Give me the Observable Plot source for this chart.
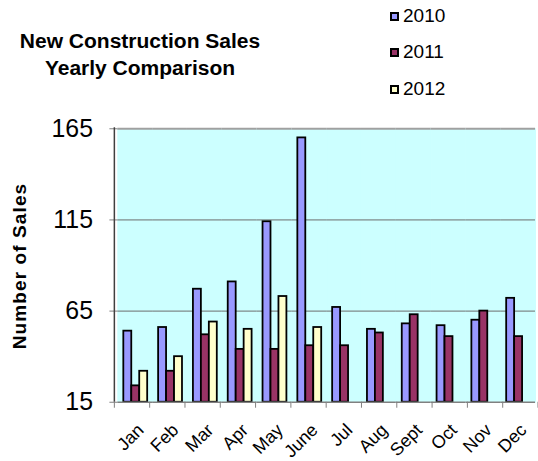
<!DOCTYPE html>
<html><head><meta charset="utf-8">
<script src="https://cdn.jsdelivr.net/npm/d3@7"></script>
<script src="https://cdn.jsdelivr.net/npm/@observablehq/plot@0.6"></script>
<style>
body{margin:0;width:538px;height:461px;overflow:hidden;position:relative;background:#fff;font-family:"Liberation Sans",Arial,sans-serif;color:#000;}
#chart{position:absolute;left:0;top:0;}
.title{position:absolute;left:0;width:280px;top:27.6px;text-align:center;font-weight:bold;font-size:20px;line-height:27px;transform:scaleX(1.05);white-space:nowrap;}
.ylabel{position:absolute;left:20px;top:266px;transform:translate(-50%,-50%) rotate(-90deg);font-weight:bold;font-size:19px;letter-spacing:1.1px;white-space:nowrap;}
.leg{position:absolute;left:390px;font-size:19px;line-height:19px;white-space:nowrap;}
.leg i{display:inline-block;width:5px;height:5px;border:2px solid #000;margin-right:4px;vertical-align:1px;}
</style></head><body>
<div id="chart"></div>
<div class="title">New Construction Sales<br>Yearly Comparison</div>
<div class="ylabel">Number of Sales</div>
<div id="legend"></div>
<script>
const months = ["Jan","Feb","Mar","Apr","May","June","Jul","Aug","Sept","Oct","Nov","Dec"];
const years = ["2010","2011","2012"];
const sales2010 = [54,56,77,81,114,160,67,55,58,57,60,72];
const sales2011 = [24,32,52,44,44,46,46,53,63,51,65,51];
const sales2012 = [32,40,59,55,73,56];
const yTicks = [15,65,115,165];
const colors = ["#9999FF","#993366","#FFFFCC"];

const series = [sales2010, sales2011, sales2012];
const rows = [];
series.forEach((s, j) => s.forEach((v, i) => rows.push({month: months[i], year: years[j], value: v})));

const legendTops = [5.6, 42.2, 78.9];
const legend = document.getElementById("legend");
years.forEach((y, j) => {
  const d = document.createElement("div");
  d.className = "leg";
  d.style.top = legendTops[j] + "px";
  d.innerHTML = `<i style="background:${colors[j]}"></i>${y}`;
  legend.appendChild(d);
});

const yMin = yTicks[0], yMax = yTicks[yTicks.length - 1];
const plot = Plot.plot({
  width: 541, height: 461,
  marginLeft: 115, marginRight: 0, marginTop: 129, marginBottom: 57,
  fx: {domain: months, paddingInner: 0, paddingOuter: 0},
  x: {domain: years, paddingInner: 0, paddingOuter: 0.63, axis: null},
  y: {domain: [yMin, yMax]},
  color: {domain: years, range: colors},
  style: {fontFamily: "Liberation Sans, Arial, sans-serif", color: "black", background: "transparent"},
  marks: [
    Plot.frame({fill: "#CCFFFF", stroke: "#CCFFFF"}),
    Plot.ruleY(yTicks.slice(1, -1), {stroke: "#6b6b6b", strokeWidth: 1}),
    Plot.ruleY([yMax], {stroke: "#a0a0a0", strokeWidth: 2}),
    Plot.barY(rows, {fx: "month", x: "year", y1: () => yMin, y2: "value", fill: "year", stroke: "black", strokeWidth: 1.8}),
    Plot.ruleY([yMin], {stroke: "#808080", strokeWidth: 1.5}),
    Plot.axisY({ticks: yTicks, tickSize: 8, tickPadding: 17, fontSize: 25, label: null, stroke: "#808080"}),
    Plot.axisFx({anchor: "bottom", tickSize: 0, tickRotate: -45, tickPadding: 25, dx: 5.5, fontSize: 18, label: null})
  ]
});
document.getElementById("chart").appendChild(plot);

// left axis line and category-boundary ticks, placed from the plot's own scales
const svg = d3.select(plot);
const fxs = plot.scale("fx"), ys = plot.scale("y");
const fx = d3.scaleBand().domain(fxs.domain).range(fxs.range).paddingInner(0).paddingOuter(0);
const y = d3.scaleLinear().domain(ys.domain).range(ys.range);
const g = svg.append("g");
const y0 = y(yMin), yTop = y(yMax);
g.append("line").attr("x1", fx.range()[0]).attr("x2", fx.range()[0]).attr("y1", yTop - 1).attr("y2", y0).attr("stroke", "#404040").attr("stroke-width", 1.5);
const bounds = months.map(m => fx(m)).concat([fx.range()[1]]);
g.selectAll(".bt").data(bounds).join("line")
  .attr("x1", d => d).attr("x2", d => d).attr("y1", y0).attr("y2", y0 + 6)
  .attr("stroke", "#808080").attr("stroke-width", 1);
</script>
</body></html>
